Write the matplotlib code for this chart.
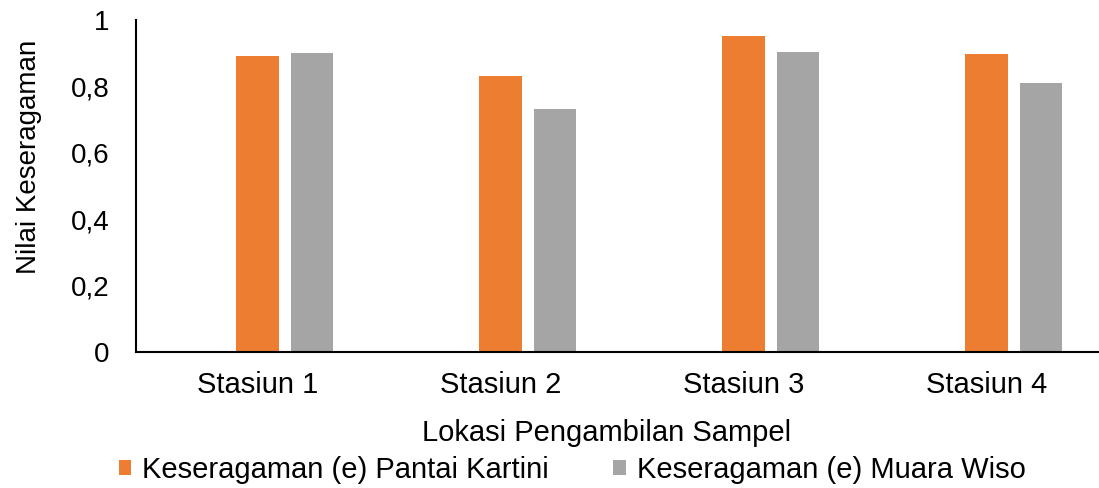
import matplotlib
matplotlib.use("Agg")
import matplotlib.pyplot as plt
import numpy as np

# Data
stations = ["Stasiun 1", "Stasiun 2", "Stasiun 3", "Stasiun 4"]
pantai_kartini = [0.892, 0.832, 0.952, 0.898]
muara_wiso = [0.900, 0.732, 0.903, 0.809]
series_names = ["Keseragaman (e) Pantai Kartini", "Keseragaman (e) Muara Wiso"]
y_ticks = [0, 0.2, 0.4, 0.6, 0.8, 1.0]
y_tick_labels = ["0", "0,2", "0,4", "0,6", "0,8", "1"]

plt.rcParams["font.family"] = ["Liberation Sans", "DejaVu Sans"]
FS = 21

W, H = 1099, 488
fig = plt.figure(figsize=(W / 100, H / 100), dpi=100)
ax = fig.add_axes([136 / W, 136 / H, 972 / W, 332 / H])

x = np.arange(len(stations))
bar_w = 0.175
offset = 0.224
ax.bar(x, pantai_kartini, width=bar_w, color="#ED7D31", label=series_names[0])
ax.bar(x + offset, muara_wiso, width=bar_w, color="#A5A5A5", label=series_names[1])

ax.set_xlim(-0.5, 3.5)
ax.set_ylim(0, 1)
ax.set_xticks(x)
ax.set_xticklabels(stations, fontsize=FS)
ax.set_yticks(y_ticks)
ax.set_yticklabels(y_tick_labels, fontsize=20)
ax.tick_params(axis="both", length=0)
ax.tick_params(axis="y", pad=19)
ax.tick_params(axis="x", pad=14)

for side in ("top", "right"):
    ax.spines[side].set_visible(False)
for side in ("left", "bottom"):
    ax.spines[side].set_color("black")
    ax.spines[side].set_linewidth(1.5)

fig.text(607 / W, (H - 441) / H, "Lokasi Pengambilan Sampel", fontsize=FS,
         ha="center", va="baseline")
fig.text(29 / W, (H - 157) / H, "Nilai Keseragaman", fontsize=20,
         ha="center", va="center", rotation=90)

fig.legend(loc="center left", bbox_to_anchor=(119 / W, (H - 470) / H), ncol=2,
           frameon=False, fontsize=FS, handlelength=0.42, handleheight=0.42,
           handletextpad=0.38, columnspacing=2.2, borderpad=0, borderaxespad=0)

fig.savefig("out.png", dpi=100)
